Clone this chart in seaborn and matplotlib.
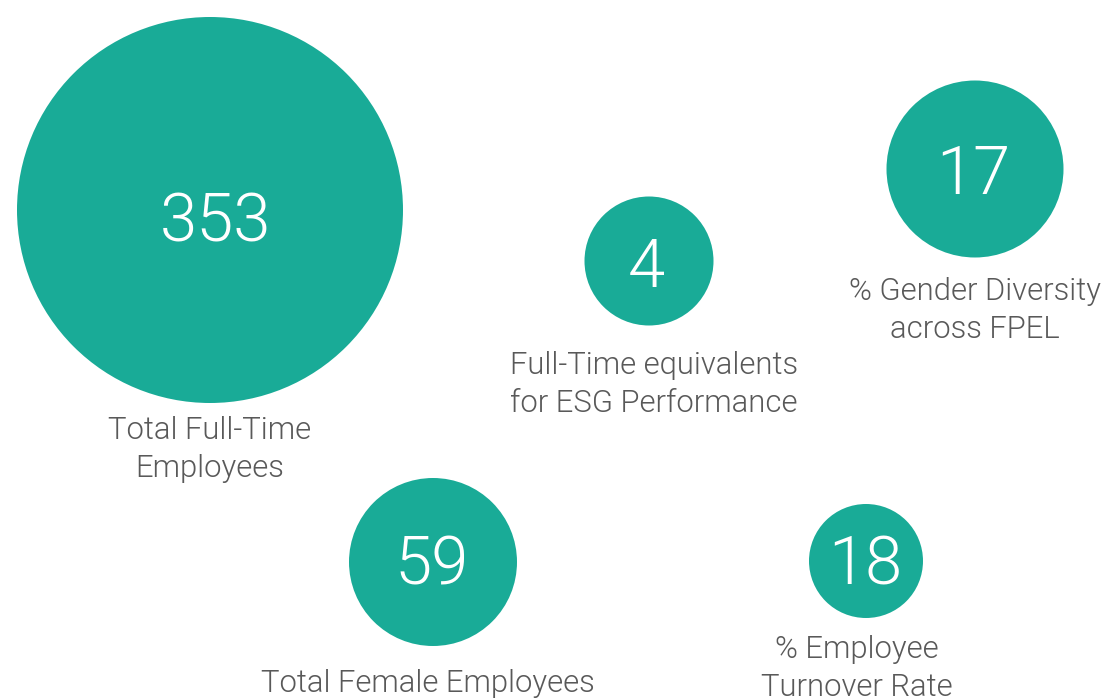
import matplotlib
matplotlib.use("Agg")
import matplotlib.pyplot as plt
import seaborn as sns
import pandas as pd

# ---- data ----
values = [353, 4, 17, 59, 18]
labels = [
    "Total Full-Time\nEmployees",
    "Full-Time equivalents\nfor ESG Performance",
    "% Gender Diversity\nacross FPEL",
    "Total Female Employees",
    "% Employee\nTurnover Rate",
]
bubble_x = [210, 649, 975, 433, 866]
bubble_y = [210, 261, 169, 562, 561]
bubble_r = [193, 64.5, 88.5, 84, 57]

# ---- layout / style ----
label_dx = [0, 5, 0, -5, -9]
label_gap = [36, 48, 42, 46, 40]      # circle bottom -> first baseline (px)
line_step = 38                          # baseline distance (px)
number_dx = [5, -3, -2, -1, -1]
number_dy = [8, 2, 1, -1, 0]
teal = "#19ab97"
grey = "#595959"
DPI = 100
W, H = 1110, 700

sns.set_theme(style="white")
plt.rcParams["font.family"] = ["Roboto", "DejaVu Sans"]

df = pd.DataFrame({"x": bubble_x, "y": bubble_y, "r": bubble_r})
px2pt = 72.0 / DPI
size_map = {r: (2 * r * px2pt) ** 2 for r in bubble_r}

fig = plt.figure(figsize=(W / DPI, H / DPI), dpi=DPI)
ax = fig.add_axes([0, 0, 1, 1])
sns.scatterplot(data=df, x="x", y="y", size="r", sizes=size_map, color=teal,
                linewidth=0, legend=False, ax=ax, alpha=1)
ax.set_xlim(0, W)
ax.set_ylim(H, 0)
ax.axis("off")

num_px = 67
lab_px = 31
for i in range(len(values)):
    x, y, r = bubble_x[i], bubble_y[i], bubble_r[i]
    ax.text(x + number_dx[i], y + number_dy[i] + 0.711 * num_px / 2, str(values[i]),
            ha="center", va="baseline", color="white",
            fontsize=num_px * px2pt, fontweight=300)
    base = y + r + label_gap[i]
    for j, line in enumerate(labels[i].split("\n")):
        ax.text(x + label_dx[i], base + j * line_step, line,
                ha="center", va="baseline", color=grey,
                fontsize=lab_px * px2pt, fontweight=300)

fig.savefig("out.png", dpi=DPI, facecolor="white")
